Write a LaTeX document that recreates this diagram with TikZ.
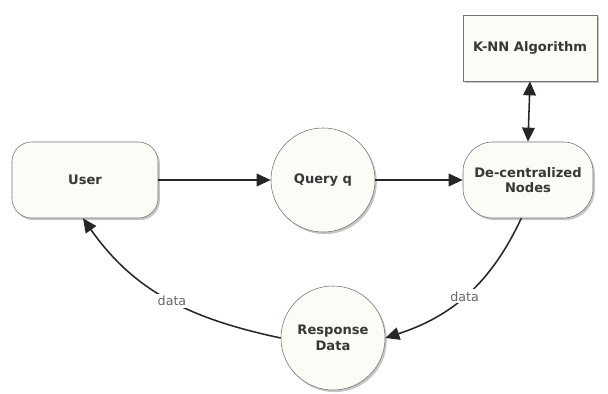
\documentclass[tikz,border=0pt]{standalone}
\usepackage{fontspec}
\setmainfont{DejaVu Sans}
\usepackage{tikz}
\usetikzlibrary{arrows,arrows.meta,shapes,shadows}
\definecolor{paper}{RGB}{252,251,246}
\definecolor{ink}{RGB}{55,55,55}
\tikzstyle{base}=[draw=black!55, fill=paper, text=ink, align=center, font=\bfseries\fontsize{9.3}{11}\selectfont, drop shadow={opacity=0.45,shadow xshift=1.3pt,shadow yshift=-1.5pt}]
\tikzstyle{userbox}=[base, rounded corners=14pt, minimum width=3.65cm, minimum height=1.9cm]
\tikzstyle{pillbox}=[base, rounded corners=0.75cm, minimum width=3.25cm, minimum height=1.9cm]
\tikzstyle{algbox}=[base, minimum width=3.35cm, minimum height=1.65cm]
\tikzstyle{bubble}=[base, circle, minimum size=2.6cm, inner sep=0pt]
\tikzstyle{edge} = [draw, line width=1.1pt, black!85, -{Triangle[length=10pt,width=9pt]}]
\tikzstyle{weight} = [fill=white, text=black!60, font=\fontsize{9}{10}\selectfont, inner sep=1.5pt]

\begin{document}
\begin{tikzpicture}[x=0.025cm, y=-0.025cm]
    \useasboundingbox (0,0) rectangle (608,394);

    \node[userbox] (user) at (85,180) {User};
    \node[pillbox] (dec) at (528,180) {De-centralized\\Nodes};
    \node[algbox] (knn) at (530,48) {K-NN Algorithm};

    \foreach \x/\y/\name/\txt in {323/180/query/{Query q}, 333/338/resp/{Response\\Data}}
        \node[bubble] (\name) at (\x,\y) {\txt};

    \foreach \source/ \dest in {user/query, query/dec}
        \path[edge] (\source) -- (\dest);

    \path[edge, {Triangle[length=10pt,width=9pt]}-{Triangle[length=10pt,width=9pt]}] (knn.south) -- (dec.north);

    % returning data
    \path[edge] (dec.-100) to[out=-115, in=18] node[weight, pos=0.52] (d1) {data} (resp.east);
    \path[edge] (resp.west) to[out=168, in=-55] node[weight, pos=0.48] (d2) {data} (user.-93);

\end{tikzpicture}
\end{document}
